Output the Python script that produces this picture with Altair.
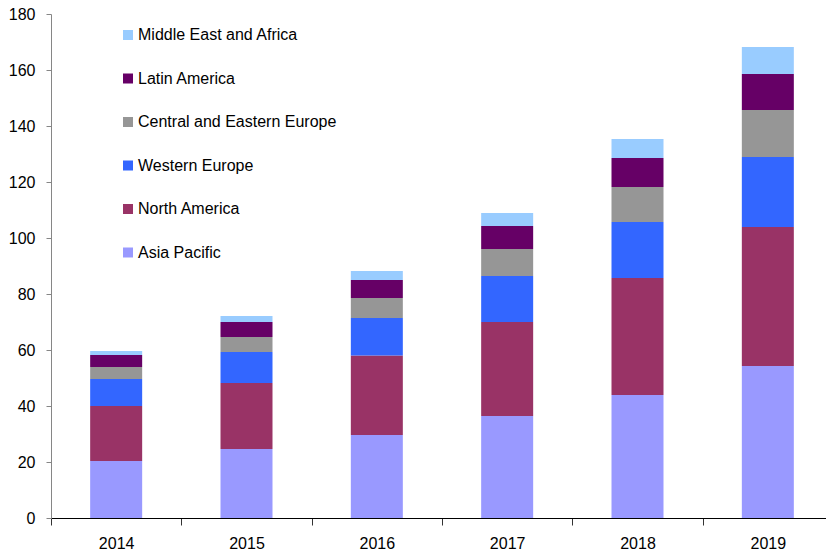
import altair as alt
import pandas as pd

years = ["2014", "2015", "2016", "2017", "2018", "2019"]
regions = ["Middle East and Africa", "Latin America", "Central and Eastern Europe",
           "Western Europe", "North America", "Asia Pacific"]
colors = ["#99CCFF", "#660066", "#969696", "#3366FF", "#993366", "#9999FF"]

asia_pacific = [20.4, 24.6, 29.6, 36.4, 43.9, 54.3]
north_america = [19.6, 23.6, 28.4, 33.6, 41.8, 49.6]
western_europe = [9.6, 11.1, 13.4, 16.4, 20.0, 25.0]
central_eastern_europe = [4.3, 5.3, 7.2, 9.7, 12.5, 16.8]
latin_america = [4.3, 5.4, 6.4, 8.2, 10.4, 12.9]
middle_east_africa = [1.4, 2.1, 3.2, 4.6, 6.8, 9.6]

series = {
    "Asia Pacific": asia_pacific,
    "North America": north_america,
    "Western Europe": western_europe,
    "Central and Eastern Europe": central_eastern_europe,
    "Latin America": latin_america,
    "Middle East and Africa": middle_east_africa,
}
stack_order = list(series.keys())

rows = []
for name, vals in series.items():
    for y, v in zip(years, vals):
        rows.append({"year": y, "region": name, "value": v,
                     "order": stack_order.index(name)})
df = pd.DataFrame(rows)

FONT = "Liberation Sans"

chart = alt.Chart(df).mark_bar(size=52).encode(
    x=alt.X("year:N", sort=years,
            scale=alt.Scale(range=[0, 782], paddingInner=0, paddingOuter=0),
            axis=alt.Axis(title=None, labelAngle=0, tickBand="extent",
                          tickSize=7, domainColor="#000000", tickColor="#333333",
                          labelFontSize=16, labelPadding=10, labelColor="#000000",
                          labelFont=FONT)),
    y=alt.Y("value:Q", stack="zero",
            scale=alt.Scale(domain=[0, 180], nice=False),
            axis=alt.Axis(title=None, values=list(range(0, 181, 20)), grid=False,
                          domainColor="#868686", tickColor="#868686", tickSize=5,
                          labelFontSize=16, labelPadding=11, labelColor="#000000",
                          labelFont=FONT)),
    color=alt.Color("region:N",
                    scale=alt.Scale(domain=regions, range=colors),
                    legend=alt.Legend(orient="none", legendX=69, legendY=13, title=None,
                                      symbolType="square", symbolSize=100,
                                      symbolStrokeWidth=0, symbolOpacity=1,
                                      labelFontSize=16, labelFont=FONT,
                                      labelColor="#000000", rowPadding=27.5,
                                      labelOffset=2, labelLimit=0, padding=0)),
    order=alt.Order("order:Q", sort="ascending"),
).properties(
    width=774, height=504,
    autosize=alt.AutoSizeParams(type="none"),
    padding={"left": 51, "top": 14, "right": 1, "bottom": 38},
).configure_view(stroke=None)

chart.save("out.html", embed_options={"renderer": "svg", "actions": False})
